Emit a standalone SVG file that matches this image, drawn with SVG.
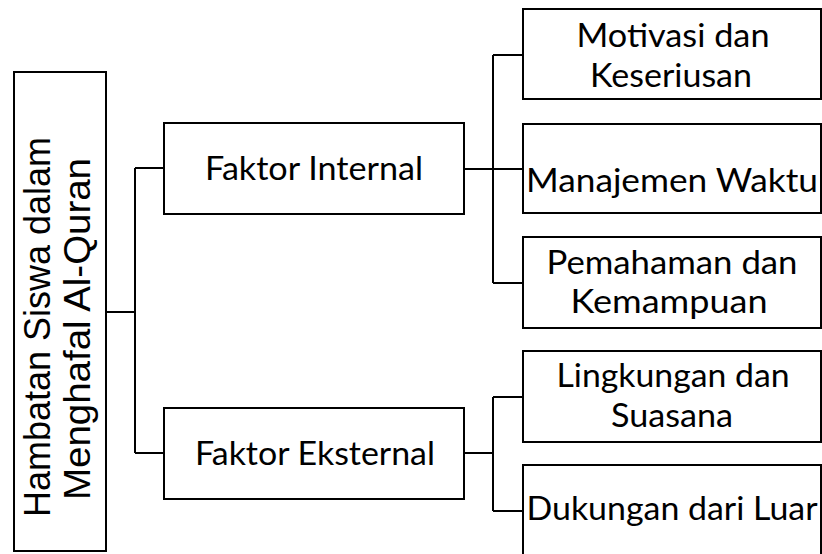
<svg xmlns="http://www.w3.org/2000/svg" width="822" height="554" viewBox="0 0 822 554">
<style>
rect{fill:#fff;stroke:#000;stroke-width:2}
.c path{fill:none;stroke:#000;stroke-width:2}
text{font-family:Lato,"Open Sans",sans-serif;font-size:33px;fill:#000;text-anchor:middle}
.root{font-family:"Liberation Sans",Arial,sans-serif;font-size:36px}
</style>
<rect x="0" y="0" width="822" height="554" style="stroke:none"/>
<g class="c">
<path d="M106 312H135M135 168V453M135 168H165M135 453H165"/>
<path d="M464 169H493M493 55V283M493 55H523M493 169H523M493 283H523"/>
<path d="M464 453H493M493 397V511M493 397H523M493 511H523"/>
</g>
<g id="root">
<rect x="14" y="72" width="92" height="479"/>
<text class="root" transform="rotate(-90)" x="-327" y="50" textLength="380" lengthAdjust="spacingAndGlyphs">Hambatan Siswa dalam</text>
<text class="root" transform="rotate(-90)" x="-329" y="90" textLength="342" lengthAdjust="spacingAndGlyphs">Menghafal Al-Quran</text>
</g>
<g id="internal">
<rect x="164" y="123" width="300" height="91"/>
<text x="314" y="180" textLength="218" lengthAdjust="spacingAndGlyphs">Faktor Internal</text>
</g>
<g id="eksternal">
<rect x="164" y="408" width="300" height="91"/>
<text x="315" y="465" textLength="240" lengthAdjust="spacingAndGlyphs">Faktor Eksternal</text>
</g>
<g id="motivasi">
<rect x="523" y="9" width="298" height="90"/>
<text x="673" y="47" textLength="193" lengthAdjust="spacingAndGlyphs">Motivasi dan</text>
<text x="671" y="87" textLength="162" lengthAdjust="spacingAndGlyphs">Keseriusan</text>
</g>
<g id="waktu">
<rect x="523" y="124" width="298" height="89"/>
<text x="672" y="192" textLength="292" lengthAdjust="spacingAndGlyphs">Manajemen Waktu</text>
</g>
<g id="pemahaman">
<rect x="523" y="237" width="298" height="91"/>
<text x="672" y="274" textLength="251" lengthAdjust="spacingAndGlyphs">Pemahaman dan</text>
<text x="669" y="313" textLength="197" lengthAdjust="spacingAndGlyphs">Kemampuan</text>
</g>
<g id="lingkungan">
<rect x="523" y="351" width="298" height="91"/>
<text x="673" y="387" textLength="233" lengthAdjust="spacingAndGlyphs">Lingkungan dan</text>
<text x="672" y="427" textLength="122" lengthAdjust="spacingAndGlyphs">Suasana</text>
</g>
<g id="dukungan">
<rect x="523" y="465" width="298" height="95"/>
<text x="672" y="520" textLength="291" lengthAdjust="spacingAndGlyphs">Dukungan dari Luar</text>
</g>
</svg>
